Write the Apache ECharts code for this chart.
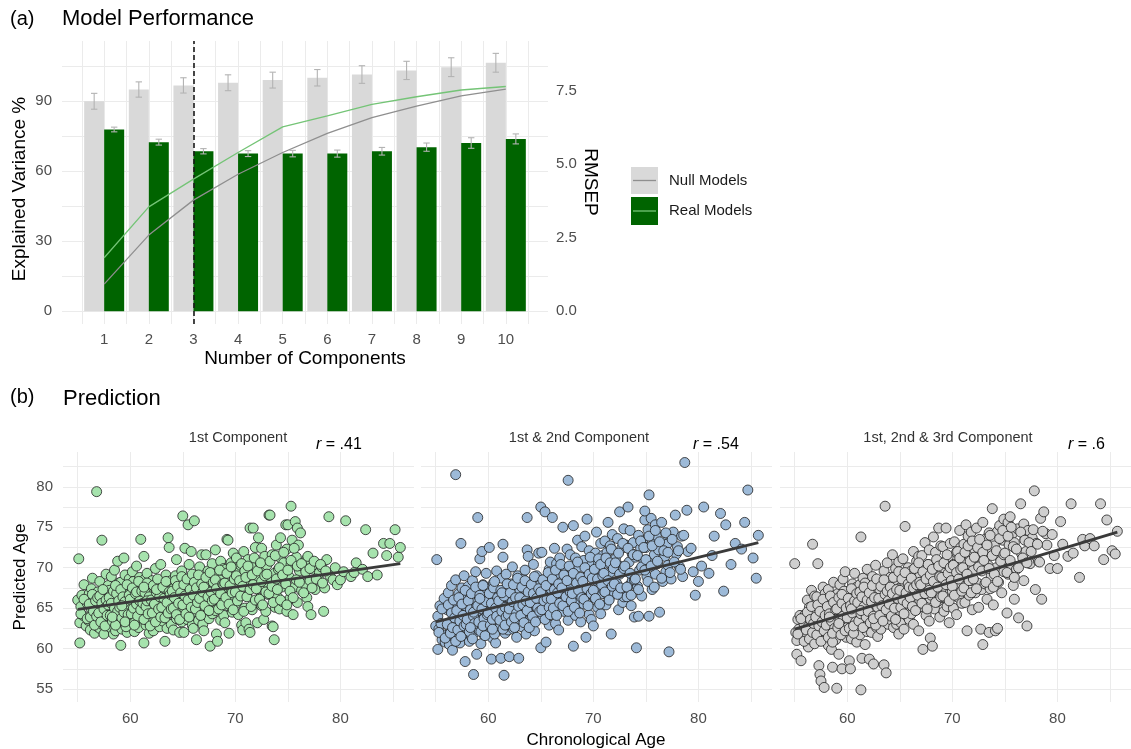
<!DOCTYPE html>
<html>
<head>
<meta charset="utf-8">
<script src="https://cdn.jsdelivr.net/npm/echarts@6/dist/echarts.min.js"></script>
<style>
  html, body { margin: 0; padding: 0; background: #ffffff; }
  #chart { width: 1131px; height: 749px; }
</style>
</head>
<body>
<div id="chart"></div>
<script>
// ---------- Panel (a): model performance ----------
const components = [1, 2, 3, 4, 5, 6, 7, 8, 9, 10];
const rmsepNull = [7.14, 7.54, 7.68, 7.77, 7.86, 7.94, 8.05, 8.19, 8.30, 8.45];
const rmsepNullSe = [0.27, 0.26, 0.26, 0.27, 0.27, 0.28, 0.30, 0.31, 0.32, 0.32];
const rmsepReal = [6.18, 5.75, 5.44, 5.36, 5.36, 5.36, 5.44, 5.58, 5.72, 5.86];
const rmsepRealSe = [0.08, 0.10, 0.09, 0.10, 0.11, 0.12, 0.13, 0.14, 0.18, 0.17];
const explVarNull = [11.6, 32.6, 47.6, 58.7, 68.0, 76.2, 83.0, 87.9, 92.3, 95.2];
const explVarReal = [22.9, 44.7, 56.6, 68.0, 79.0, 83.7, 88.6, 91.9, 94.8, 96.3];
const selectedComponents = 3;
const varianceTicks = [0, 30, 60, 90];
const rmsepTicks = [0, 2.5, 5, 7.5];
const legendLabels = ['Null Models', 'Real Models'];

// ---------- Panel (b): predicted vs chronological age ----------
const panelTitles = ['1st Component', '1st & 2nd Component', '1st, 2nd & 3rd Component'];
const correlations = ['.41', '.54', '.6'];
const ageTicks = [60, 70, 80];
const predTicks = [55, 60, 65, 70, 75, 80];

const chronAge = [
  55.0,55.1,55.2,55.2,55.3,55.4,55.5,55.6,55.8,55.9,
  56.0,56.1,56.2,56.3,56.3,56.4,56.5,56.6,56.6,56.7,56.8,56.8,56.9,56.9,
  57.0,57.1,57.1,57.2,57.3,57.3,57.4,57.5,57.5,57.6,57.7,57.8,57.8,57.9,57.9,57.9,
  58.0,58.0,58.1,58.2,58.2,58.3,58.4,58.4,58.5,58.5,58.6,58.6,58.7,58.8,58.8,58.9,58.9,58.9,
  59.0,59.0,59.1,59.1,59.2,59.2,59.3,59.4,59.4,59.5,59.5,59.6,59.7,59.7,59.8,59.8,59.9,59.9,
  60.0,60.0,60.1,60.1,60.2,60.2,60.3,60.3,60.4,60.5,60.5,60.6,60.7,60.7,60.8,60.8,60.9,60.9,
  61.0,61.0,61.1,61.2,61.2,61.3,61.3,61.4,61.4,61.5,61.5,61.6,61.7,61.7,61.8,61.8,61.9,61.9,
  62.0,62.0,62.1,62.2,62.2,62.3,62.4,62.4,62.5,62.6,62.6,62.7,62.8,62.8,62.9,62.9,62.9,
  63.0,63.1,63.1,63.2,63.3,63.3,63.4,63.5,63.5,63.6,63.6,63.7,63.7,63.8,63.9,63.9,
  64.0,64.1,64.1,64.2,64.3,64.4,64.4,64.5,64.6,64.6,64.7,64.8,64.8,64.9,64.9,
  65.0,65.0,65.1,65.2,65.2,65.3,65.4,65.5,65.5,65.6,65.7,65.8,65.8,65.9,65.9,
  66.0,66.1,66.1,66.2,66.3,66.3,66.4,66.5,66.6,66.6,66.7,66.8,66.8,66.9,66.9,
  67.0,67.1,67.1,67.2,67.3,67.4,67.5,67.6,67.6,67.7,67.8,67.8,67.9,67.9,
  68.0,68.1,68.1,68.2,68.3,68.3,68.4,68.5,68.6,68.6,68.7,68.8,68.9,68.9,
  69.0,69.1,69.1,69.2,69.3,69.3,69.4,69.5,69.6,69.6,69.7,69.8,69.8,69.9,
  70.0,70.1,70.1,70.2,70.3,70.4,70.4,70.5,70.6,70.7,70.7,70.8,70.9,70.9,
  71.0,71.1,71.1,71.2,71.3,71.4,71.4,71.5,71.6,71.6,71.7,71.8,71.9,71.9,
  72.0,72.1,72.2,72.3,72.4,72.5,72.5,72.6,72.7,72.8,72.8,72.9,72.9,
  73.0,73.1,73.2,73.3,73.4,73.5,73.5,73.6,73.7,73.7,73.8,73.9,
  74.0,74.1,74.2,74.3,74.3,74.4,74.5,74.6,74.7,74.8,74.9,74.9,
  75.0,75.1,75.2,75.3,75.3,75.4,75.5,75.6,75.7,75.8,75.9,75.9,
  76.0,76.1,76.2,76.3,76.5,76.6,76.8,76.8,76.9,
  77.0,77.1,77.2,77.4,77.6,77.8,77.9,
  78.0,78.2,78.4,78.5,78.7,78.9,
  79.0,79.3,79.5,79.7,
  80.0,80.3,80.5,
  81.0,81.3,81.5,
  82.1,82.4,82.6,
  83.1,83.5,
  84.1,84.4,84.7,
  85.2,85.5,85.7,
  55.3,55.6,55.9,
  56.1,56.2,56.4,56.5,56.6,56.7,56.8,56.9,
  57.0,57.1,57.2,57.3,57.4,57.5,57.6,57.7,57.8,57.9,
  58.0,58.1,58.2,58.3,58.4,58.5,58.6,58.7,58.8,58.9,58.3,58.6,
  59.0,59.1,59.2,59.3,59.4,59.5,59.6,59.7,59.8,59.9,59.2,59.5,
  60.0,60.1,60.2,60.3,60.4,60.5,60.6,60.7,60.8,60.9,60.4,60.6,
  61.0,61.1,61.2,61.3,61.4,61.5,61.6,61.7,61.8,61.9,61.3,61.6,
  62.0,62.1,62.2,62.3,62.4,62.5,62.6,62.7,62.8,62.9,62.5,
  63.0,63.1,63.2,63.3,63.4,63.5,63.6,63.7,63.8,63.9,
  64.0,64.1,64.2,64.3,64.4,64.5,64.6,64.7,64.8,64.9,
  65.0,65.1,65.2,65.3,65.4,65.5,65.6,65.7,65.8,65.9,
  66.0,66.1,66.2,66.3,66.4,66.5,66.6,66.7,66.8,66.9,
  67.0,67.1,67.2,67.4,67.5,67.6,67.7,67.8,67.9,
  68.0,68.1,68.2,68.4,68.5,68.6,68.7,68.8,68.9,
  69.0,69.1,69.2,69.4,69.5,69.6,69.7,69.8,69.9,
  70.0,70.1,70.2,70.4,70.5,70.6,70.7,70.8,70.9,
  71.0,71.1,71.2,71.4,71.5,71.6,71.7,71.8,71.9,
  72.0,72.1,72.3,72.4,72.5,72.6,72.8,72.9,
  73.0,73.2,73.3,73.5,73.6,73.8,73.9,
  74.0,74.2,74.3,74.5,74.6,74.8,74.9,
  75.0,75.2,75.3,75.5,75.6,75.8,75.9,
  76.1,76.3,76.5,76.7,76.9,
  77.1,77.3,77.5,77.7,
  78.1,78.3,78.6
];

const predComp1 = [
  66.0,71.1,60.7,63.2,65.2,66.6,64.1,67.9,62.8,65.6,
  63.5,66.8,62.3,64.9,67.4,68.7,63.9,65.8,61.9,66.3,79.4,64.4,62.7,67.0,
  66.2,62.5,68.3,64.6,73.4,63.0,65.7,67.1,61.8,64.0,69.2,62.9,66.5,65.3,63.7,67.8,
  64.1,67.2,62.6,65.8,68.9,63.4,61.8,66.6,64.8,69.7,62.2,65.1,67.5,70.8,63.9,66.0,64.4,68.1,
  66.7,63.6,60.4,68.2,64.9,62.4,67.0,71.2,65.4,63.1,69.1,66.1,64.3,62.0,67.6,65.0,68.6,63.8,
  64.2,67.7,62.8,66.4,69.5,63.5,65.9,68.3,62.1,66.9,64.7,70.2,63.2,67.3,65.2,62.6,68.8,64.0,
  73.5,65.1,67.9,63.8,66.5,71.4,60.7,64.6,68.6,62.9,66.0,69.3,63.4,65.6,67.2,61.9,64.1,68.0,
  66.9,63.7,68.4,65.3,62.2,67.6,64.5,69.9,66.2,63.1,68.0,65.0,62.7,67.1,64.8,70.4,66.4,
  65.6,67.9,63.4,66.8,60.9,64.9,69.1,62.5,66.3,73.7,64.3,72.5,67.5,65.3,63.0,68.4,
  64.6,67.4,62.3,65.8,69.0,71.0,63.7,66.6,68.2,64.0,62.0,67.0,65.2,69.6,63.3,
  76.4,66.1,62.0,72.4,64.8,67.7,63.6,75.3,65.9,70.4,68.3,72.0,64.2,66.9,62.9,
  62.5,75.8,67.2,64.6,61.1,68.9,66.0,63.5,70.1,65.4,67.7,64.0,71.6,66.5,63.0,
  62.2,68.1,64.9,71.6,66.6,69.6,63.7,60.3,67.4,65.8,70.5,64.3,68.7,66.1,
  67.7,72.2,64.7,61.8,60.9,69.3,66.4,68.5,63.5,70.8,65.6,67.0,64.1,69.9,
  63.2,66.8,69.8,73.5,73.4,65.3,61.9,68.3,67.1,70.6,64.5,71.8,66.0,68.9,
  68.6,65.6,71.2,66.9,64.2,69.5,67.7,70.3,62.9,62.3,68.1,72.0,65.0,69.0,
  63.2,69.2,66.5,71.0,62.4,62.0,74.9,67.9,64.8,70.1,74.9,68.5,65.7,72.5,
  68.9,63.2,73.7,66.2,70.5,72.4,65.3,69.6,63.6,67.3,71.4,64.6,68.2,
  70.3,66.7,76.5,76.5,68.6,62.8,71.6,62.7,61.1,69.3,65.1,72.8,
  66.4,69.8,64.9,73.7,71.2,67.6,65.8,70.6,68.4,75.3,64.6,72.3,
  75.3,68.9,66.2,77.6,70.4,73.4,64.2,67.6,75.7,71.3,74.9,65.7,
  72.8,69.6,74.3,67.2,70.1,68.0,66.3,71.1,65.2,
  71.0,68.4,64.2,69.8,67.3,70.3,68.9,
  69.4,70.1,64.6,67.5,71.0,76.3,
  69.0,68.5,70.0,67.9,
  68.5,69.5,75.8,
  68.9,69.4,70.6,
  69.8,74.7,68.9,
  71.8,69.1,
  73.0,71.5,73.0,
  74.7,71.3,72.5,
  64.3,66.1,63.7,
  65.5,63.9,66.7,64.6,62.9,65.9,64.0,66.3,
  64.4,66.5,63.3,65.6,67.3,64.9,62.8,66.0,64.1,65.4,
  66.3,64.1,65.6,63.4,67.1,65.0,62.9,66.8,64.6,65.9,63.9,67.8,
  65.1,67.3,63.8,66.4,64.5,65.8,62.7,67.9,64.2,66.6,65.3,63.3,
  66.1,64.3,67.5,65.0,63.2,66.8,65.5,64.0,68.3,65.9,62.9,67.0,
  64.8,67.1,65.6,63.6,66.9,65.2,68.1,64.3,66.4,62.8,67.6,65.9,
  66.0,64.4,67.8,65.5,63.3,66.9,68.6,64.9,66.4,63.9,67.3,
  65.1,67.6,66.2,63.8,68.3,65.7,64.4,67.0,66.7,64.9,
  67.1,65.0,66.3,68.4,64.2,67.7,65.6,63.6,66.9,68.9,
  65.4,67.9,66.5,64.3,68.6,66.0,63.9,67.3,65.1,69.2,
  66.6,68.2,64.9,67.5,65.7,69.1,66.2,64.1,68.0,67.0,
  67.6,65.3,68.8,66.4,64.7,69.4,67.0,65.9,68.2,
  66.1,68.5,67.4,64.9,69.7,66.8,65.4,68.0,67.9,
  68.1,66.3,69.3,65.5,67.8,70.1,66.9,64.8,68.6,
  67.0,69.0,65.9,68.4,66.5,70.5,67.7,64.6,69.6,
  68.8,66.4,70.2,67.3,65.2,69.1,67.9,71.2,66.0,
  67.4,69.6,66.1,70.6,68.3,65.4,69.0,67.0,
  69.2,66.8,70.8,67.7,65.7,71.5,68.6,
  67.3,70.0,66.0,69.1,71.9,68.0,65.4,
  69.7,67.1,70.9,66.3,72.4,68.5,70.2,
  68.2,70.5,66.9,69.5,71.4,
  69.9,67.5,70.8,68.6,
  70.4,68.1,69.6
];

const predComp12 = [
  62.8,71.0,64.0,59.9,62.4,65.3,63.1,61.1,66.2,60.8,
  61.7,64.8,66.9,60.5,63.2,62.1,67.8,64.3,59.8,65.6,62.6,61.4,81.5,68.5,
  62.9,65.4,61.2,66.8,63.6,60.7,73.0,64.9,67.5,62.2,69.0,58.4,63.1,65.9,61.8,66.4,
  65.1,62.4,67.7,63.8,60.9,66.3,64.6,61.5,68.4,63.2,56.8,65.7,62.0,69.5,64.1,59.3,66.9,63.0,
  76.2,63.9,66.5,62.3,71.1,64.7,60.6,72.0,65.8,63.4,67.9,61.7,66.2,64.0,69.3,62.8,65.2,67.3,
  66.1,63.1,72.5,64.4,62.0,67.4,58.7,65.5,61.3,68.1,63.7,66.7,60.7,64.9,69.6,62.5,65.9,63.3,
  64.2,67.0,62.6,58.8,65.7,63.9,68.7,72.9,71.3,56.7,66.4,61.9,64.8,69.2,63.3,67.6,65.1,62.3,
  59.0,66.3,63.5,68.0,64.7,70.1,62.4,66.9,65.2,63.0,67.7,61.4,64.3,69.0,65.8,58.8,67.2,
  67.1,64.0,66.0,62.7,68.6,65.3,63.6,69.7,64.5,66.8,61.8,76.2,72.2,71.4,65.0,67.9,
  65.6,68.2,63.2,66.6,70.4,64.2,62.2,67.3,65.1,69.0,63.8,66.0,71.8,64.7,67.8,
  77.5,60.1,71.9,66.9,63.9,68.5,76.9,60.8,65.4,67.6,64.6,69.8,62.9,66.2,70.7,
  67.3,76.2,64.4,69.3,72.4,65.8,63.1,70.5,66.6,68.0,62.3,67.0,71.2,64.9,69.0,
  65.8,75.0,68.4,64.6,70.0,66.4,72.3,80.8,63.5,69.2,67.3,71.6,65.0,68.9,
  69.4,60.3,75.2,66.2,71.2,64.1,68.6,73.4,65.6,70.1,67.9,63.3,72.6,66.8,
  68.0,70.9,65.5,73.9,61.4,67.2,76.0,69.5,64.2,72.1,66.7,70.3,63.6,68.8,
  62.8,69.7,66.3,71.8,74.4,68.3,65.1,70.6,67.5,73.0,64.3,69.1,71.5,66.8,
  70.5,67.0,73.3,65.4,71.9,68.6,75.6,66.2,72.7,69.4,61.8,74.1,67.7,70.0,
  66.9,71.1,68.1,73.6,64.8,70.2,76.9,67.4,72.4,65.7,69.8,74.8,66.4,
  69.6,72.8,66.4,77.5,70.7,67.9,74.6,65.3,71.7,68.4,73.1,63.9,
  71.3,60.1,67.7,64.0,74.0,69.7,72.4,66.5,73.3,70.9,75.9,77.0,
  72.5,68.9,74.7,79.0,64.0,70.9,76.1,67.3,73.6,71.6,75.3,69.2,
  74.0,70.5,72.2,64.5,75.6,68.3,73.1,71.4,69.5,
  72.9,70.3,59.6,68.6,74.4,76.5,71.7,
  72.6,70.1,73.9,68.9,83.0,77.1,
  72.0,72.4,69.5,66.6,
  68.3,70.2,77.5,
  69.3,71.5,73.9,
  76.7,67.1,75.3,
  70.4,73.0,
  72.3,75.6,79.6,
  71.2,68.7,74.0,
  62.0,64.9,61.3,
  63.0,65.4,61.9,64.4,62.6,66.0,63.8,60.9,
  64.7,62.3,66.3,63.4,61.5,65.5,64.1,62.8,67.2,63.0,
  63.6,65.9,62.1,64.8,66.8,61.2,64.0,63.1,67.6,65.2,62.6,64.5,
  65.3,63.3,66.6,62.1,64.9,67.8,63.7,61.6,65.8,64.2,66.2,62.8,
  64.4,66.8,62.9,65.6,63.6,67.5,61.8,65.0,64.0,66.3,62.4,68.3,
  65.9,63.5,67.2,64.6,62.4,66.5,65.1,63.9,68.0,64.2,66.9,62.9,
  64.9,66.9,63.3,65.8,67.9,62.6,66.3,64.4,68.7,65.2,63.8,
  66.3,64.1,67.6,65.4,63.2,68.4,65.9,64.7,67.0,62.6,
  65.7,67.9,64.0,66.8,68.9,63.3,66.2,65.0,67.4,64.6,
  67.0,64.8,68.5,65.9,63.6,67.8,66.2,69.4,65.1,64.2,
  66.1,68.6,65.0,67.3,69.7,64.1,66.9,68.0,65.6,70.4,
  67.5,65.3,69.1,66.4,68.4,64.6,70.2,67.0,65.9,
  66.8,69.3,65.1,68.1,70.7,67.2,64.4,68.8,66.3,
  68.3,66.1,70.0,67.4,65.3,69.2,71.3,66.8,68.7,
  67.2,69.8,66.2,68.6,71.1,65.5,70.4,67.9,69.0,
  69.3,67.0,71.2,68.4,66.0,70.6,72.3,67.7,69.9,
  68.0,70.6,66.7,71.8,69.2,67.5,73.0,69.9,
  70.2,67.6,72.4,69.3,66.6,71.6,68.5,
  68.6,71.5,67.3,73.3,70.1,72.5,69.7,
  71.0,68.3,73.9,70.2,72.7,67.6,74.6,
  70.8,73.2,68.7,72.1,74.3,
  71.9,69.4,73.5,70.7,
  72.1,69.8,74.0
];

const predComp123 = [
  70.5,62.0,59.3,61.0,63.6,62.4,64.1,58.5,61.8,63.0,
  64.2,61.4,66.0,62.7,60.2,65.1,63.5,61.9,67.2,72.9,62.9,64.7,60.9,66.5,
  64.6,61.9,66.4,70.5,57.9,63.1,56.8,56.0,65.2,62.4,67.6,55.2,63.9,61.2,66.8,64.0,
  62.1,65.8,63.0,60.4,67.3,64.5,61.6,66.1,63.8,59.9,57.7,65.0,68.2,62.7,64.8,61.1,66.6,63.3,
  55.1,64.9,62.3,66.8,59.3,63.7,67.9,65.6,61.8,57.5,64.4,68.6,62.9,66.0,63.2,69.5,61.4,65.3,
  65.8,62.6,67.1,63.9,58.5,66.3,57.5,64.7,61.2,68.0,63.1,65.4,69.3,62.2,66.9,64.1,60.8,67.6,
  63.4,66.6,64.9,61.7,67.9,73.8,54.9,58.8,65.5,62.9,68.7,63.8,66.2,60.5,67.1,64.3,69.8,62.1,
  66.4,63.2,58.7,67.5,64.4,62.0,68.9,65.8,58.1,63.7,66.9,70.3,64.9,62.6,67.8,65.3,61.5,
  64.1,67.3,65.0,62.4,68.4,66.1,63.5,58.0,69.6,77.6,64.6,57.0,66.7,70.6,63.0,67.7,
  66.0,63.6,68.8,65.2,71.6,62.6,67.2,64.5,69.9,66.4,63.0,68.1,65.6,61.8,70.7,
  64.7,67.5,63.2,69.2,66.0,71.1,62.4,75.1,67.9,65.3,64.0,70.0,68.6,63.6,66.6,
  67.0,64.3,69.6,65.7,72.0,63.0,68.3,66.3,70.8,64.8,67.8,62.2,71.4,65.9,69.0,
  68.2,65.2,71.5,59.9,66.8,73.1,64.1,69.6,67.5,70.4,63.4,72.2,61.3,66.2,
  66.6,60.3,70.0,73.8,68.4,64.9,71.9,67.2,69.3,65.8,74.9,63.9,68.9,72.7,
  69.4,66.3,72.6,64.6,70.8,67.6,74.9,65.2,71.3,68.5,63.2,73.0,66.9,69.9,
  67.1,70.4,65.0,73.2,68.7,71.9,64.2,69.8,66.3,74.6,67.9,72.5,65.6,70.9,
  70.7,67.4,72.9,65.7,75.3,62.2,69.5,73.9,66.6,71.6,68.4,74.4,64.8,70.1,
  69.7,72.3,66.9,74.9,68.1,71.2,65.1,73.4,62.4,70.5,67.3,75.6,60.5,
  71.5,68.0,73.6,66.1,70.3,62.0,74.3,67.4,72.1,69.0,77.3,65.4,
  72.7,62.2,70.0,62.5,74.5,68.2,75.2,71.1,66.9,73.4,69.5,76.0,
  73.9,71.0,64.4,75.6,69.2,72.8,76.3,70.4,74.2,67.8,73.1,66.1,
  72.4,69.8,74.8,63.8,77.9,71.7,75.4,68.4,73.5,
  72.0,62.8,74.6,70.5,73.7,79.5,67.3,
  73.0,70.8,76.1,66.1,76.9,74.2,
  72.8,69.9,74.1,71.5,
  69.9,75.7,72.9,
  71.4,77.9,71.8,
  68.8,73.5,72.7,
  73.6,72.7,
  77.9,71.0,75.9,
  72.1,71.7,74.5,
  61.8,63.7,60.9,
  62.3,64.5,61.2,63.6,65.2,62.0,63.1,60.6,
  63.9,61.7,65.4,62.8,64.6,60.9,63.3,66.1,62.2,64.1,
  62.9,65.2,61.4,64.3,66.5,63.4,60.8,65.7,62.5,64.8,63.9,61.9,
  64.9,62.6,66.3,63.5,61.7,65.6,64.0,67.1,62.2,65.0,63.1,66.7,
  63.8,66.2,62.5,65.3,67.4,64.4,61.9,65.9,63.3,66.8,64.9,62.8,
  65.7,63.4,67.0,64.3,66.4,62.6,65.2,68.1,63.9,66.0,64.7,67.6,
  64.6,66.9,63.2,65.8,67.8,64.0,66.3,62.9,68.6,65.1,63.7,
  66.2,64.1,67.7,65.3,63.4,68.5,66.7,64.8,67.1,65.9,
  65.5,67.6,64.0,66.8,68.8,65.0,63.6,67.3,66.2,69.5,
  67.2,65.1,68.6,66.0,64.3,69.4,66.9,65.6,68.0,67.6,
  66.3,68.7,65.2,67.5,69.9,64.7,67.9,66.6,70.6,68.2,
  67.9,65.6,69.5,66.8,68.6,64.9,70.4,67.2,69.1,
  66.9,69.8,68.3,65.7,71.0,67.6,70.2,68.9,66.4,
  68.8,66.5,70.6,67.9,71.6,69.3,65.9,70.0,68.4,
  67.7,70.3,66.6,69.4,72.0,68.6,71.2,69.8,67.1,
  70.0,67.5,71.9,69.2,72.7,68.4,70.8,66.9,73.3,
  68.6,71.3,67.4,72.5,70.1,73.5,69.6,71.9,
  70.9,68.2,72.8,69.9,74.0,71.5,67.6,
  69.2,72.1,68.3,73.6,70.8,74.6,71.6,
  71.8,69.4,73.9,70.9,75.0,72.6,68.8,
  72.3,70.0,74.4,71.2,73.4,
  70.6,73.1,72.0,74.7,
  72.9,70.7,74.5
];

// linear fits (end points) for each panel
const fitComp1 = [[55.0, 64.85], [85.7, 70.5]];
const fitComp12 = [[55.0, 63.3], [85.7, 73.1]];
const fitComp123 = [[55.0, 62.4], [85.7, 74.4]];

// ---------- styling ----------
const FONT = '"Liberation Sans", Arial, Helvetica, sans-serif';
const GRID_COLOR = '#ebebeb';
const TICK_COLOR = '#4d4d4d';
const NULL_FILL = '#d9d9d9';
const REAL_FILL = '#006400';
const NULL_LINE = '#8f8f8f';
const REAL_LINE = '#74c476';
const ERR_COLOR = '#b3b3b3';
const BAR_W = 20;
const RMSEP_SCALE = 12.6;           // secondary axis: RMSEP = percent / 12.6
const VAR_MIN = -5.5, VAR_MAX = 115.8;

const pointFills = ['#a6e3ad', '#9dbad8', '#cfcfcf'];
const preds = [predComp1, predComp12, predComp123];
const fits = [fitComp1, fitComp12, fitComp123];

const range = (a, b, s) => { const r = []; for (let v = a; v <= b + 1e-9; v += s) r.push(+v.toFixed(3)); return r; };

const tickText = { color: TICK_COLOR, fontFamily: FONT, fontSize: 15 };

// ---------- grids ----------
const panelLefts = [63, 421, 780];
const grids = [{ left: 62, top: 41, width: 486, height: 283 }]
  .concat(panelLefts.map(l => ({ left: l, top: 452, width: 351, height: 250 })));

const xAxes = [{
  gridIndex: 0, type: 'value', min: 0.055, max: 10.945,
  axisLine: { show: false },
  axisTick: { show: false, customValues: range(0.5, 10.5, 0.5) },
  axisLabel: Object.assign({ customValues: components, margin: 8 }, tickText),
  splitLine: { show: true, lineStyle: { color: GRID_COLOR, width: 1 } }
}].concat(panelLefts.map((l, i) => ({
  gridIndex: i + 1, type: 'value', min: 53.6, max: 87.0,
  axisLine: { show: false },
  axisTick: { show: false, customValues: range(55, 85, 5) },
  axisLabel: Object.assign({ customValues: ageTicks, margin: 9 }, tickText),
  splitLine: { show: true, lineStyle: { color: GRID_COLOR, width: 1 } }
})));

const yAxes = [{
  gridIndex: 0, type: 'value', min: VAR_MIN, max: VAR_MAX,
  axisLine: { show: false },
  axisTick: { show: false, customValues: range(0, 105, 15) },
  axisLabel: Object.assign({ customValues: varianceTicks, margin: 10 }, tickText),
  splitLine: { show: true, lineStyle: { color: GRID_COLOR, width: 1 } }
}, {
  gridIndex: 0, type: 'value', position: 'right',
  min: VAR_MIN / RMSEP_SCALE, max: VAR_MAX / RMSEP_SCALE,
  axisLine: { show: false },
  axisTick: { show: false, customValues: rmsepTicks },
  axisLabel: Object.assign({ customValues: rmsepTicks, margin: 8, formatter: v => v.toFixed(1) }, tickText),
  splitLine: { show: false }
}].concat(panelLefts.map((l, i) => ({
  gridIndex: i + 1, type: 'value', min: 53.4, max: 84.3,
  axisLine: { show: false },
  axisTick: { show: false, customValues: range(55, 82.5, 2.5) },
  axisLabel: Object.assign({ show: i === 0, customValues: predTicks, margin: 10 }, tickText),
  splitLine: { show: true, lineStyle: { color: GRID_COLOR, width: 1 } }
})));

// ---------- series ----------
function errorBarSeries(values, se, side) {
  return {
    type: 'custom', xAxisIndex: 0, yAxisIndex: 1, z: 4,
    data: components.map((c, i) => [c, values[i] - se[i], values[i] + se[i]]),
    renderItem: (params, api) => {
      const lo = api.coord([api.value(0), api.value(1)]);
      const hi = api.coord([api.value(0), api.value(2)]);
      const x = lo[0] + side * BAR_W / 2;
      const cap = 3.2;
      const st = { stroke: ERR_COLOR, lineWidth: 1.1 };
      return {
        type: 'group', children: [
          { type: 'line', shape: { x1: x, y1: lo[1], x2: x, y2: hi[1] }, style: st },
          { type: 'line', shape: { x1: x - cap, y1: lo[1], x2: x + cap, y2: lo[1] }, style: st },
          { type: 'line', shape: { x1: x - cap, y1: hi[1], x2: x + cap, y2: hi[1] }, style: st }
        ]
      };
    }
  };
}

const series = [
  {
    type: 'bar', name: legendLabels[0], xAxisIndex: 0, yAxisIndex: 1,
    data: components.map((c, i) => [c, rmsepNull[i]]),
    barWidth: BAR_W, barGap: '0%', itemStyle: { color: NULL_FILL }, z: 2
  },
  {
    type: 'bar', name: legendLabels[1], xAxisIndex: 0, yAxisIndex: 1,
    data: components.map((c, i) => [c, rmsepReal[i]]),
    barWidth: BAR_W, barGap: '0%', itemStyle: { color: REAL_FILL }, z: 2
  },
  errorBarSeries(rmsepNull, rmsepNullSe, -1),
  errorBarSeries(rmsepReal, rmsepRealSe, 1),
  {
    type: 'line', xAxisIndex: 0, yAxisIndex: 0, symbol: 'none', z: 5,
    data: components.map((c, i) => [c, explVarNull[i]]),
    lineStyle: { color: NULL_LINE, width: 1.3 }
  },
  {
    type: 'line', xAxisIndex: 0, yAxisIndex: 0, symbol: 'none', z: 5,
    data: components.map((c, i) => [c, explVarReal[i]]),
    lineStyle: { color: REAL_LINE, width: 1.3 },
    markLine: {
      silent: true, symbol: ['none', 'none'], label: { show: false },
      lineStyle: { color: '#1a1a1a', width: 1.6, type: [5, 3] },
      data: [{ xAxis: selectedComponents }]
    }
  }
];

preds.forEach((p, k) => {
  series.push({
    type: 'scatter', xAxisIndex: k + 1, yAxisIndex: k + 2, z: 3,
    data: chronAge.map((a, j) => [a, p[j]]),
    symbolSize: 10,
    itemStyle: { color: pointFills[k], borderColor: '#1f1f1f', borderWidth: 0.8, opacity: 1 }
  });
  series.push({
    type: 'line', xAxisIndex: k + 1, yAxisIndex: k + 2, z: 6, symbol: 'none',
    data: fits[k],
    lineStyle: { color: '#3a3a3a', width: 2.8 }
  });
});

// ---------- text, legend ----------
const txt = (text, x, y, size, opts) => Object.assign({
  type: 'text', x, y, silent: true,
  style: Object.assign({ text, fontFamily: FONT, fontSize: size, fill: '#000', align: 'left', verticalAlign: 'middle' }, (opts && opts.style) || {})
}, opts && opts.rotation !== undefined ? { rotation: opts.rotation } : {});

const graphic = [
  txt('(a)', 10, 19, 20),
  txt('Model Performance', 62, 19, 22),
  txt('Explained Variance %', 20, 189, 19, { rotation: Math.PI / 2, style: { align: 'center' } }),
  txt('RMSEP', 590, 182, 19, { rotation: -Math.PI / 2, style: { align: 'center' } }),
  txt('Number of Components', 305, 359, 19, { style: { align: 'center' } }),
  { type: 'rect', shape: { x: 631, y: 167, width: 27, height: 27 }, style: { fill: NULL_FILL } },
  { type: 'line', shape: { x1: 633, y1: 180.5, x2: 656, y2: 180.5 }, style: { stroke: NULL_LINE, lineWidth: 1.3 } },
  { type: 'rect', shape: { x: 631, y: 197, width: 27, height: 28 }, style: { fill: REAL_FILL } },
  { type: 'line', shape: { x1: 633, y1: 211, x2: 656, y2: 211 }, style: { stroke: REAL_LINE, lineWidth: 1.3 } },
  txt(legendLabels[0], 669, 181, 15, { style: { fill: '#1a1a1a' } }),
  txt(legendLabels[1], 669, 211, 15, { style: { fill: '#1a1a1a' } }),
  txt('(b)', 10, 397, 20),
  txt('Prediction', 63, 399, 22),
  txt('Predicted Age', 20, 577, 17, { rotation: Math.PI / 2, style: { align: 'center' } }),
  txt('Chronological Age', 596, 740, 17, { style: { align: 'center' } })
];

const titleCenters = [238, 579, 948];
const rLefts = [316, 693, 1068];
panelTitles.forEach((t, k) => {
  graphic.push(txt(t, titleCenters[k], 438, 14.5, { style: { align: 'center', fill: '#333' } }));
  graphic.push({
    type: 'text', x: rLefts[k], y: 445, silent: true,
    style: {
      text: '{i|r} = ' + correlations[k], fontFamily: FONT, fontSize: 16, fill: '#000',
      align: 'left', verticalAlign: 'middle',
      rich: { i: { fontStyle: 'italic', fontFamily: FONT, fontSize: 16, fill: '#000' } }
    }
  });
});

const chart = echarts.init(document.getElementById('chart'), null, { renderer: 'canvas' });
chart.setOption({
  animation: false,
  backgroundColor: '#ffffff',
  grid: grids,
  xAxis: xAxes,
  yAxis: yAxes,
  series,
  graphic
});
</script>
</body>
</html>
